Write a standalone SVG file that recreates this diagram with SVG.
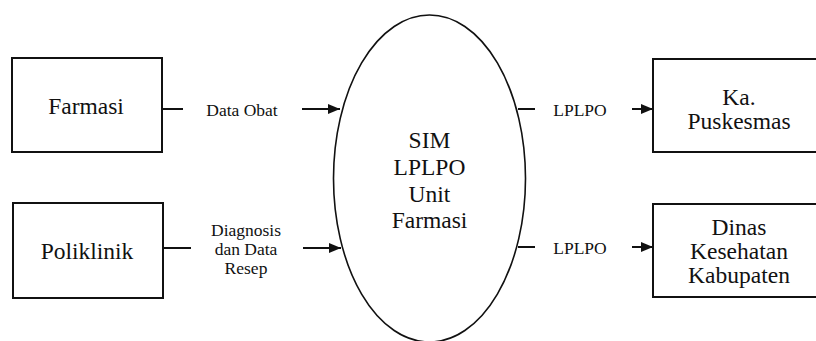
<svg xmlns="http://www.w3.org/2000/svg" width="816" height="341" viewBox="0 0 816 341">
  <style>
    .box { fill: #fff; stroke: #111; stroke-width: 2; }
    .proc { fill: #fff; stroke: #111; stroke-width: 1.6; }
    .node { font-family: "Liberation Serif", "Times New Roman", serif; font-size: 23.5px; fill: #111; text-anchor: middle; }
    .lbl { font-family: "Liberation Serif", "Times New Roman", serif; font-size: 17.5px; fill: #111; text-anchor: middle; }
    .flow { stroke: #111; stroke-width: 2; fill: none; }
  </style>
  <defs>
    <marker id="arrow" viewBox="0 0 12 10" refX="12" refY="5" markerWidth="12" markerHeight="10" markerUnits="userSpaceOnUse" orient="auto">
      <path d="M0,0 L12,5 L0,10 Z" fill="#111"/>
    </marker>
  </defs>
  <rect width="816" height="341" fill="#fff"/>

  <g id="farmasi">
    <rect class="box" x="12" y="58" width="150" height="94"/>
    <text class="node" x="86" y="114">Farmasi</text>
  </g>

  <g id="poliklinik">
    <rect class="box" x="13" y="203" width="150" height="95"/>
    <text class="node" x="87" y="259">Poliklinik</text>
  </g>

  <g id="sim-lplpo">
    <ellipse class="proc" cx="429.5" cy="178.5" rx="96" ry="163.5"/>
    <text class="node" x="429.5" y="148">SIM</text>
    <text class="node" x="429.5" y="175">LPLPO</text>
    <text class="node" x="429.5" y="202">Unit</text>
    <text class="node" x="429.5" y="228">Farmasi</text>
  </g>

  <g id="ka-puskesmas">
    <rect class="box" x="653" y="59" width="170" height="93"/>
    <text class="node" x="739" y="105">Ka.</text>
    <text class="node" x="739" y="129">Puskesmas</text>
  </g>

  <g id="dinas-kesehatan">
    <rect class="box" x="653" y="204" width="170" height="93"/>
    <text class="node" x="739" y="235">Dinas</text>
    <text class="node" x="739" y="259">Kesehatan</text>
    <text class="node" x="739" y="283">Kabupaten</text>
  </g>

  <g id="connectors">
    <!-- Farmasi to SIM -->
    <line class="flow" x1="162" y1="109" x2="183" y2="109"/>
    <line class="flow" x1="302" y1="109" x2="340" y2="109" marker-end="url(#arrow)"/>
    <text class="lbl" x="242" y="116">Data Obat</text>

    <!-- Poliklinik to SIM -->
    <line class="flow" x1="163" y1="248" x2="191" y2="248"/>
    <line class="flow" x1="303" y1="248" x2="341" y2="248" marker-end="url(#arrow)"/>
    <text class="lbl" x="246" y="236">Diagnosis</text>
    <text class="lbl" x="246" y="255">dan Data</text>
    <text class="lbl" x="246" y="274">Resep</text>

    <!-- SIM to Ka. Puskesmas -->
    <line class="flow" x1="518" y1="109" x2="535" y2="109"/>
    <line class="flow" x1="632" y1="109" x2="653" y2="109" marker-end="url(#arrow)"/>
    <text class="lbl" x="580" y="116">LPLPO</text>

    <!-- SIM to Dinas Kesehatan -->
    <line class="flow" x1="518" y1="247" x2="535" y2="247"/>
    <line class="flow" x1="632" y1="247" x2="653" y2="247" marker-end="url(#arrow)"/>
    <text class="lbl" x="580" y="254">LPLPO</text>
  </g>
</svg>
